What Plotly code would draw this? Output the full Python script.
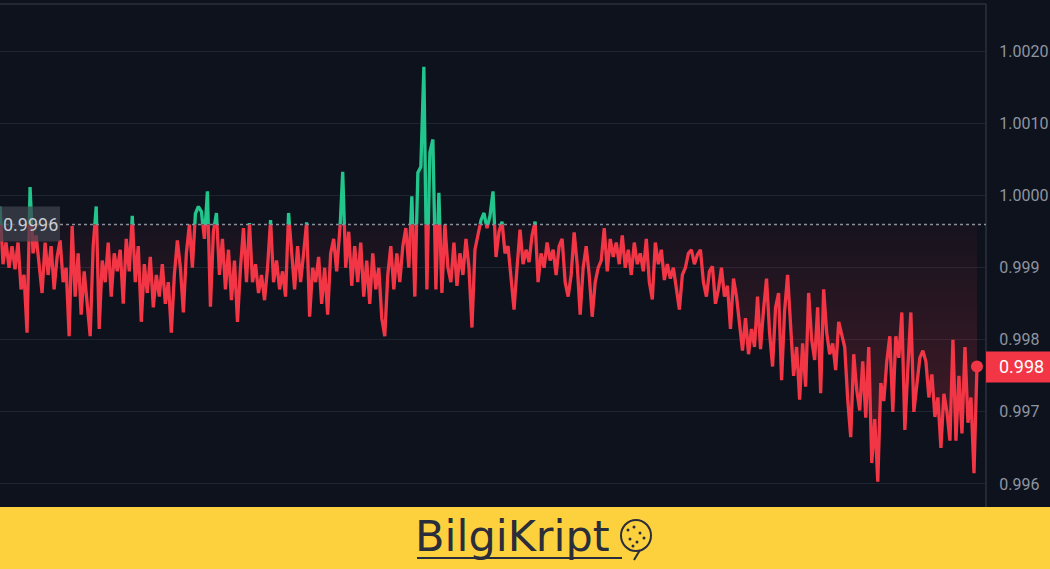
import plotly.graph_objects as go

# ---------------- data ----------------
baseline_value = 0.9996

values = [
    0.99985, 0.99905, 0.99935, 0.99900, 0.99930, 0.99898, 0.99935, 0.99870, 0.99890, 0.99810,
    1.00012, 0.99920, 0.99945, 0.99905, 0.99865, 0.99935, 0.99890, 0.99930, 0.99870, 0.99915,
    0.99938, 0.99880, 0.99900, 0.99805, 0.99958, 0.99860, 0.99920, 0.99835, 0.99895, 0.99850,
    0.99805, 0.99930, 0.99985, 0.99815, 0.99910, 0.99880, 0.99935, 0.99860, 0.99920, 0.99895,
    0.99925, 0.99850, 0.99940, 0.99895, 0.99972, 0.99880, 0.99930, 0.99825, 0.99905, 0.99865,
    0.99915, 0.99845, 0.99890, 0.99860, 0.99905, 0.99850, 0.99880, 0.99810, 0.99890, 0.99938,
    0.99900, 0.99838, 0.99920, 0.99960, 0.99900, 0.99975, 0.99985, 0.99978, 0.99940, 1.00006,
    0.99846, 0.99950, 0.99976, 0.99890, 0.99940, 0.99870, 0.99925, 0.99855, 0.99910, 0.99825,
    0.99900, 0.99955, 0.99880, 0.99962, 0.99880, 0.99905, 0.99865, 0.99890, 0.99855, 0.99900,
    0.99966, 0.99880, 0.99910, 0.99870, 0.99895, 0.99860, 0.99976, 0.99920, 0.99870, 0.99930,
    0.99880, 0.99920, 0.99963, 0.99832, 0.99900, 0.99880, 0.99915, 0.99850, 0.99900, 0.99835,
    0.99920, 0.99940, 0.99895, 0.99945, 1.00033, 0.99900, 0.99950, 0.99875, 0.99930, 0.99880,
    0.99935, 0.99860, 0.99910, 0.99850, 0.99920, 0.99870, 0.99900, 0.99830, 0.99805, 0.99890,
    0.99930, 0.99870, 0.99920, 0.99880, 0.99930, 0.99955, 0.99900, 0.99999, 0.99860, 1.00032,
    1.00040, 1.00179, 0.99870, 1.00060, 1.00078, 0.99870, 1.00004, 0.99865, 0.99960, 0.99900,
    0.99880, 0.99935, 0.99875, 0.99920, 0.99890, 0.99940, 0.99900, 0.99817, 0.99925, 0.99945,
    0.99966, 0.99976, 0.99955, 0.99972, 1.00006, 0.99915, 0.99950, 0.99964, 0.99920, 0.99930,
    0.99880, 0.99842, 0.99900, 0.99953, 0.99905, 0.99925, 0.99908, 0.99945, 0.99964, 0.99880,
    0.99920, 0.99900, 0.99935, 0.99910, 0.99925, 0.99890, 0.99930, 0.99940, 0.99880, 0.99860,
    0.99890, 0.99949, 0.99905, 0.99835, 0.99900, 0.99930, 0.99890, 0.99832, 0.99880, 0.99900,
    0.99910, 0.99955, 0.99895, 0.99940, 0.99915, 0.99935, 0.99905, 0.99945, 0.99900, 0.99925,
    0.99890, 0.99935, 0.99905, 0.99920, 0.99895, 0.99940, 0.99880, 0.99856, 0.99935, 0.99905,
    0.99925, 0.99883, 0.99905, 0.99885, 0.99900, 0.99870, 0.99842, 0.99890, 0.99900, 0.99920,
    0.99925, 0.99905, 0.99918, 0.99925, 0.99880, 0.99860, 0.99895, 0.99902, 0.99850, 0.99870,
    0.99900, 0.99860, 0.99875, 0.99815, 0.99885, 0.99860, 0.99825, 0.99785, 0.99830, 0.99780,
    0.99815, 0.99790, 0.99860, 0.99787, 0.99842, 0.99885, 0.99810, 0.99763, 0.99845, 0.99865,
    0.99744, 0.99840, 0.99890, 0.99810, 0.99750, 0.99790, 0.99717, 0.99795, 0.99735, 0.99865,
    0.99800, 0.99772, 0.99845, 0.99726, 0.99870, 0.99810, 0.99780, 0.99795, 0.99758, 0.99825,
    0.99805, 0.99790, 0.99717, 0.99665, 0.99780, 0.99730, 0.99702, 0.99770, 0.99692, 0.99790,
    0.99629, 0.99690, 0.99603, 0.99740, 0.99715, 0.99770, 0.99805, 0.99700, 0.99805, 0.99775,
    0.99838, 0.99675, 0.99760, 0.99838, 0.99700, 0.99740, 0.99775, 0.99785, 0.99770, 0.99720,
    0.99752, 0.99693, 0.99720, 0.99650, 0.99725, 0.99700, 0.99660, 0.99800, 0.99660, 0.99750,
    0.99670, 0.99790, 0.99685, 0.99720, 0.99615, 0.99763,
]

tick_values = [0.996, 0.997, 0.998, 0.999, 1.000, 1.001, 1.002]
tick_labels = ["0.996", "0.997", "0.998", "0.999", "1.0000", "1.0010", "1.0020"]
baseline_label = "0.9996"
last_label = "0.998"
brand_text = "BilgiKript"

# ---------------- style / layout constants ----------------
W, H = 1050, 569
M_L, M_R, M_T, M_B = 0, 64, 4, 62
PLOT_W = W - M_L - M_R
PLOT_H = H - M_T - M_B
Y_MIN, Y_MAX = 0.99568, 1.00266
X_MAX = 328.0

BG = "#0d121d"
GRID = "#1f2431"
FRAME = "#2b303c"
TXT = "#8f95a2"
RED = "#f23645"
GREEN = "#22c58b"
YELLOW = "#fdd13d"
DARK = "#2a2d3a"


def py(pixel_y):
    """paper y from page pixel y"""
    return (H - M_B - pixel_y) / PLOT_H


def px(pixel_x):
    return (pixel_x - M_L) / PLOT_W


def vy(v):
    return (v - Y_MIN) / (Y_MAX - Y_MIN)


# ---------------- split series at baseline ----------------
xs, ys = [], []
for i, v in enumerate(values):
    if i > 0:
        p = values[i - 1]
        if (p - baseline_value) * (v - baseline_value) < 0:
            t = (baseline_value - p) / (v - p)
            xs.append(i - 1 + t)
            ys.append(baseline_value)
    xs.append(i)
    ys.append(v)

up_line = [y if y >= baseline_value else None for y in ys]
dn_line = [y if y <= baseline_value else None for y in ys]
up_fill = [max(y, baseline_value) for y in ys]
dn_fill = [min(y, baseline_value) for y in ys]
base_arr = [baseline_value] * len(xs)

fig = go.Figure()
clear = dict(width=0, color="rgba(0,0,0,0)")

fig.add_trace(go.Scatter(x=xs, y=base_arr, mode="lines", line=clear, hoverinfo="skip"))
fig.add_trace(go.Scatter(
    x=xs, y=dn_fill, mode="lines", line=clear, fill="tonexty", hoverinfo="skip",
    fillgradient=dict(type="vertical", start=Y_MIN, stop=baseline_value,
                      colorscale=[[0, "rgba(242,54,69,0.30)"], [1, "rgba(242,54,69,0.04)"]]),
))
fig.add_trace(go.Scatter(x=xs, y=base_arr, mode="lines", line=clear, hoverinfo="skip"))
fig.add_trace(go.Scatter(
    x=xs, y=up_fill, mode="lines", line=clear, fill="tonexty", hoverinfo="skip",
    fillgradient=dict(type="vertical", start=baseline_value, stop=Y_MAX,
                      colorscale=[[0, "rgba(34,197,139,0.08)"], [1, "rgba(34,197,139,0.35)"]]),
))
fig.add_trace(go.Scatter(x=xs, y=up_line, mode="lines", connectgaps=False,
                         line=dict(color=GREEN, width=3.3), hoverinfo="skip"))
fig.add_trace(go.Scatter(x=xs, y=dn_line, mode="lines", connectgaps=False,
                         line=dict(color=RED, width=3.3), hoverinfo="skip"))
fig.add_trace(go.Scatter(x=[len(values) - 1], y=[values[-1]], mode="markers",
                         marker=dict(color=RED, size=12), hoverinfo="skip"))

last_v = values[-1]
shapes = [
    # top frame & right axis line
    dict(type="line", xref="paper", yref="paper", x0=0, x1=1, y0=1, y1=1,
         line=dict(color=FRAME, width=1.5), layer="above"),
    dict(type="line", xref="paper", yref="paper", x0=1, x1=1, y0=-0.01, y1=1,
         line=dict(color=FRAME, width=1.5), layer="above"),
    # dotted baseline
    dict(type="line", xref="paper", yref="y", x0=0, x1=1, y0=baseline_value, y1=baseline_value,
         line=dict(color="#8a8f9b", width=1.5, dash="dot"), layer="above"),
    # baseline label box
    dict(type="rect", xref="paper", yref="paper", x0=-0.01, x1=px(60),
         y0=vy(baseline_value) - 17 / PLOT_H, y1=vy(baseline_value) + 18 / PLOT_H,
         fillcolor="rgba(62,66,78,0.72)", line=dict(width=0), layer="above"),
    # last price label box
    dict(type="rect", xref="paper", yref="paper", x0=1.0, x1=px(W + 5),
         y0=vy(last_v) - 16 / PLOT_H, y1=vy(last_v) + 15 / PLOT_H,
         fillcolor=RED, line=dict(width=0), layer="above"),
    # yellow banner
    dict(type="rect", xref="paper", yref="paper", x0=px(-5), x1=px(W + 5),
         y0=py(H + 5), y1=py(507), fillcolor=YELLOW, line=dict(width=0), layer="above"),
    # underline of brand
    dict(type="line", xref="paper", yref="paper", x0=px(417), x1=px(622),
         y0=py(558), y1=py(558), line=dict(color=DARK, width=2), layer="above"),
    # head icon
    dict(type="circle", xref="paper", yref="paper", x0=px(621), x1=px(651),
         y0=py(551), y1=py(520), line=dict(color=DARK, width=2), layer="above"),
    dict(type="line", xref="paper", yref="paper", x0=px(640), x1=px(634),
         y0=py(550), y1=py(560), line=dict(color=DARK, width=2), layer="above"),
]
for (dx, dy) in [(628, 530), (634, 527), (640, 533), (630, 539), (637, 542), (644, 538), (633, 546)]:
    shapes.append(dict(type="circle", xref="paper", yref="paper",
                       x0=px(dx - 1.5), x1=px(dx + 1.5), y0=py(dy + 1.5), y1=py(dy - 1.5),
                       fillcolor=DARK, line=dict(width=0), layer="above"))

annotations = [
    dict(xref="paper", yref="y", x=px(1), y=baseline_value, xanchor="left", yanchor="middle",
         text=baseline_label, showarrow=False,
         font=dict(family="Roboto", size=18, color="#c9ccd3")),
    dict(xref="paper", yref="paper", x=px(997), y=vy(last_v), xanchor="left", yanchor="middle",
         text=last_label, showarrow=False,
         font=dict(family="Roboto", size=18, color="#ffffff")),
    dict(xref="paper", yref="paper", x=px(413), y=py(536), xanchor="left", yanchor="middle",
         text=brand_text, showarrow=False,
         font=dict(family="DejaVu Sans", size=43, color=DARK)),
]

fig.update_layout(
    width=W, height=H, autosize=False,
    margin=dict(l=M_L, r=M_R, t=M_T, b=M_B, pad=0, autoexpand=False),
    paper_bgcolor=BG, plot_bgcolor=BG,
    showlegend=False,
    shapes=shapes,
    annotations=annotations,
    xaxis=dict(range=[0, X_MAX], visible=False, fixedrange=True, automargin=False),
    yaxis=dict(
        range=[Y_MIN, Y_MAX], side="right", automargin=False,
        tickvals=tick_values, ticktext=tick_labels,
        tickfont=dict(family="Roboto", size=16, color=TXT),
        ticks="outside", ticklen=9, tickcolor="rgba(0,0,0,0)",
        showgrid=True, gridcolor=GRID, gridwidth=1,
        zeroline=False, showline=False, fixedrange=True,
    ),
)

fig.write_html(
    "out.html",
    config={"displayModeBar": False},
    post_script="document.body.style.margin='0px';document.body.style.background='#0d121d';",
)
